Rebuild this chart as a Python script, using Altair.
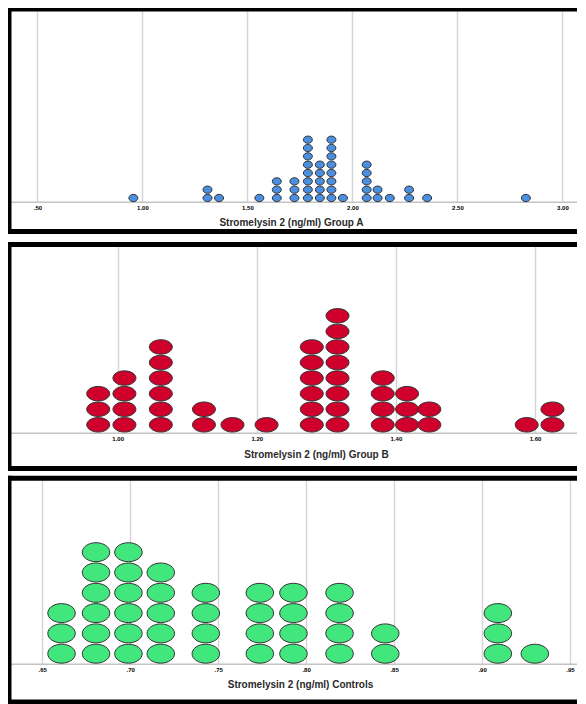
import altair as alt
import pandas as pd

# ---------------- data ----------------
# Group A (blue)
a_values = [0.957, 1.31, 1.365, 1.557, 1.64, 1.724, 1.788, 1.845, 1.90, 1.955,
            2.068, 2.12, 2.178, 2.27, 2.356, 2.826]
a_counts = [1, 2, 1, 1, 3, 3, 8, 5, 8, 1, 5, 2, 1, 2, 1, 1]
a_ticks = [0.5, 1.0, 1.5, 2.0, 2.5, 3.0]
a_title = "Stromelysin 2 (ng/ml) Group A"

# Group B (red)
b_values = [0.972, 1.0097, 1.062, 1.124, 1.165, 1.214, 1.279, 1.316, 1.381,
            1.416, 1.448, 1.588, 1.625]
b_counts = [3, 4, 6, 2, 1, 1, 6, 8, 4, 3, 2, 1, 2]
b_ticks = [1.0, 1.2, 1.4, 1.6]
b_title = "Stromelysin 2 (ng/ml) Group B"

# Controls (green)
c_values = [0.661, 0.6806, 0.699, 0.7174, 0.743, 0.7737, 0.7928, 0.819, 0.845,
            0.909, 0.930]
c_counts = [3, 6, 6, 5, 4, 4, 4, 4, 2, 3, 1]
c_ticks = [0.65, 0.70, 0.75, 0.80, 0.85, 0.90, 0.95]
c_title = "Stromelysin 2 (ng/ml) Controls"

W = 577
BW = 2.5  # half thickness of the black frame
FONT = "Liberation Sans"
LABEL_EXPR = ("datum.value < 1 ? substring(format(datum.value, '.2f'), 1) "
              ": format(datum.value, '.2f')")


def panel(values, counts, ticks, title, color, xdom, ydom, H, B,
          size, r, title_x, title_y):
    rows = [{"v": v, "k": k} for v, c in zip(values, counts) for k in range(c)]
    df = pd.DataFrame(rows)
    shape = f"M-1,0 A1,{r} 0 1,1 1,0 A1,{r} 0 1,1 -1,0 Z"
    x = alt.X(
        "v:Q",
        scale=alt.Scale(domain=xdom, nice=False, zero=False),
        axis=alt.Axis(
            values=ticks, title=title, grid=True, ticks=False,
            labelExpr=LABEL_EXPR, labelFontSize=6, labelFontWeight="bold",
            labelColor="black", labelPadding=3, labelFlush=False,
            labelOverlap=False, labelFont=FONT,
            domainColor="#c4c4c4", domainWidth=1.5,
            gridColor="#d6d6d6", gridWidth=1.5,
            titleFont=FONT, titleFontSize=10, titleFontWeight="bold",
            titleColor="#2a2a2a", titleX=title_x, titleY=title_y,
            titleAlign="center", titleBaseline="middle",
        ),
    )
    y = alt.Y("k:Q", scale=alt.Scale(domain=ydom, nice=False, zero=False),
              axis=None)
    dots = alt.Chart(df).mark_point(
        shape=shape, size=size, filled=True, fill=color, stroke="#333333",
        strokeWidth=1, opacity=1, fillOpacity=1,
    ).encode(x=x, y=y)

    frame = pd.DataFrame({"f": [0]})
    left = alt.Chart(frame).mark_rect(color="black").encode(
        x=alt.value(-BW), x2=alt.value(BW),
        y=alt.value(-BW), y2=alt.value(B + BW))
    top = alt.Chart(frame).mark_rect(color="black").encode(
        x=alt.value(-BW), x2=alt.value(W),
        y=alt.value(-BW), y2=alt.value(BW))
    bottom = alt.Chart(frame).mark_rect(color="black").encode(
        x=alt.value(-BW), x2=alt.value(W),
        y=alt.value(B - BW), y2=alt.value(B + BW))
    return alt.layer(dots, left, top, bottom).properties(width=W, height=H)


p1 = panel(a_values, a_counts, a_ticks, a_title, "#4a8fe0",
           [0.364762, 3.112381], [-0.444, 22.689], 192.7, 222.5,
           81, 0.81, 282, 20.6)
p2 = panel(b_values, b_counts, b_ticks, b_title, "#d0002c",
           [0.843732, 1.673232], [-0.514, 11.58], 188.3, 224,
           529, 0.63, 307, 21.7)
p3 = panel(c_values, c_counts, c_ticks, c_title, "#41e67c",
           [0.63113, 0.959083], [-0.4926, 8.64], 185.4, 223.7,
           756, 0.69, 291, 20.6)

chart = alt.vconcat(alt.vconcat(p1, p2, spacing=7.5), p3, spacing=4.3).properties(
    padding={"left": -2, "top": -2, "right": -9, "bottom": 0},
    background="white",
).configure_view(stroke=None)

chart.save("out.html", embed_options={"renderer": "svg", "actions": False})
